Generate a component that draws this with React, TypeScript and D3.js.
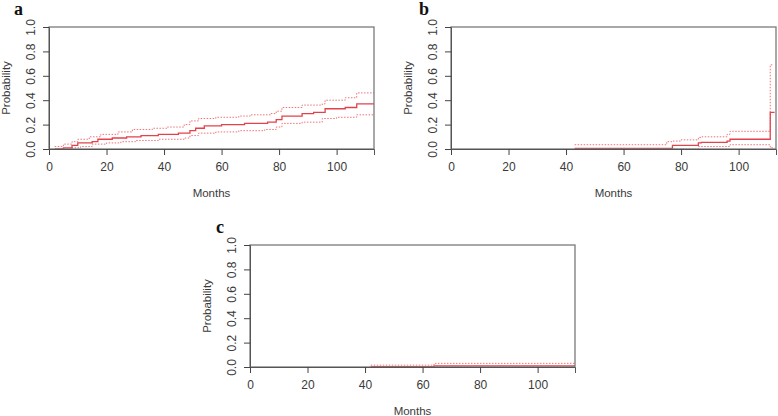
import React, { useEffect, useRef } from "react";
import * as d3 from "d3";

type Pt = [number, number];

// panel a: cumulative incidence with confidence bounds
const aEst: Pt[] = [[2, 0], [5, 0.01], [8, 0.03], [10, 0.05], [15, 0.06], [17, 0.08], [22, 0.09], [27, 0.1], [32, 0.11], [38, 0.12], [45, 0.13], [49, 0.15], [51, 0.17], [54, 0.19], [60, 0.2], [68, 0.21], [76, 0.22], [79, 0.24], [81, 0.27], [88, 0.29], [92, 0.3], [96, 0.33], [103, 0.34], [107, 0.37], [113, 0.37]];
const aUpper: Pt[] = [[2, 0.02], [5, 0.04], [8, 0.06], [10, 0.08], [14, 0.1], [18, 0.12], [24, 0.14], [29, 0.16], [36, 0.17], [41, 0.18], [47, 0.2], [49, 0.23], [52, 0.25], [58, 0.26], [66, 0.27], [70, 0.28], [77, 0.29], [79, 0.31], [81, 0.34], [88, 0.36], [95, 0.37], [96, 0.4], [103, 0.42], [107, 0.46], [113, 0.46]];
const aLower: Pt[] = [[2, 0], [8, 0.01], [11, 0.02], [15, 0.04], [20, 0.05], [25, 0.06], [30, 0.07], [38, 0.08], [47, 0.09], [49, 0.11], [52, 0.13], [58, 0.14], [66, 0.15], [75, 0.16], [79, 0.18], [81, 0.21], [88, 0.22], [95, 0.25], [100, 0.26], [107, 0.28], [113, 0.28]];

// panel b
const bEst: Pt[] = [[43, 0.005], [77, 0.03], [86, 0.05], [87, 0.055], [96, 0.065], [97, 0.08], [111, 0.3], [112.5, 0.3]];
const bUpper: Pt[] = [[43, 0.035], [75, 0.06], [77, 0.065], [80, 0.075], [86, 0.095], [87, 0.1], [96, 0.12], [97, 0.145], [111, 0.69], [112, 0.69]];
const bLower: Pt[] = [[43, 0], [86, 0.02], [97, 0.035], [110, 0.035], [111, 0.01], [112.5, 0.01]];

// panel c
const cEst: Pt[] = [[42, 0.003], [64, 0.01], [113, 0.01]];
const cUpper: Pt[] = [[42, 0.015], [64, 0.03], [113, 0.03]];
const cLower: Pt[] = [[42, 0], [113, 0]];

const xTicks = [0, 20, 40, 60, 80, 100];
const yTicks = [0, 0.2, 0.4, 0.6, 0.8, 1.0];

interface Panel {
    label: string;
    left: number;
    top: number;
    est: Pt[];
    upper: Pt[];
    lower: Pt[];
    labelX: number;
    labelY: number;
}

const panels: Panel[] = [
    { label: "a", left: 49, top: 27, est: aEst, upper: aUpper, lower: aLower, labelX: 14, labelY: 15 },
    { label: "b", left: 451, top: 27, est: bEst, upper: bUpper, lower: bLower, labelX: 419, labelY: 15 },
    { label: "c", left: 250, top: 245, est: cEst, upper: cUpper, lower: cLower, labelX: 216, labelY: 233 },
];

const W = 325;
const H = 122;
const FONT = "'Liberation Sans', Arial, sans-serif";

const App: React.FC = () => {
    const ref = useRef<SVGSVGElement | null>(null);

    useEffect(() => {
        const svg = d3.select(ref.current);
        svg.selectAll("*").remove();

        const x = d3.scaleLinear().domain([0, 113]).range([0, W]);
        const y = d3.scaleLinear().domain([0, 1]).range([H, 0]);
        const line = d3
            .line<Pt>()
            .x((d) => x(d[0]))
            .y((d) => y(d[1]))
            .curve(d3.curveStepAfter);

        panels.forEach((p) => {
            svg.append("text")
                .attr("x", p.labelX)
                .attr("y", p.labelY)
                .attr("font-family", "'Liberation Serif', 'Times New Roman', serif")
                .attr("font-weight", "bold")
                .attr("font-size", 18)
                .attr("fill", "#111")
                .text(p.label);

            const g = svg.append("g").attr("transform", `translate(${p.left},${p.top})`);

            // confidence bounds
            [p.upper, p.lower].forEach((d) => {
                g.append("path")
                    .attr("d", line(d))
                    .attr("fill", "none")
                    .attr("stroke", "#ef7279")
                    .attr("stroke-width", 1)
                    .attr("stroke-dasharray", "1.5,1.5");
            });
            g.append("path")
                .attr("d", line(p.est))
                .attr("fill", "none")
                .attr("stroke", "#e2434b")
                .attr("stroke-width", 1.3);

            g.append("rect")
                .attr("width", W)
                .attr("height", H)
                .attr("fill", "none")
                .attr("stroke", "#7a7a7a")
                .attr("stroke-width", 1.3);

            const xa = g
                .append("g")
                .attr("transform", `translate(0,${H})`)
                .call(d3.axisBottom(x).tickValues(xTicks).tickSize(6).tickFormat(d3.format("d")));
            xa.select(".domain").attr("stroke", "#555");
            xa.selectAll("line").attr("stroke", "#444");
            xa.selectAll("text")
                .attr("y", 13)
                .attr("font-family", FONT)
                .attr("font-size", 12)
                .attr("fill", "#3a3a3a");

            const ya = g
                .append("g")
                .call(d3.axisLeft(y).tickValues(yTicks).tickSize(6).tickFormat(d3.format(".1f")));
            ya.select(".domain").attr("stroke", "#555");
            ya.selectAll("line").attr("stroke", "#444");
            ya.selectAll("text")
                .attr("transform", "rotate(-90)")
                .attr("x", 0)
                .attr("y", -14)
                .attr("dy", 0)
                .attr("text-anchor", "middle")
                .attr("font-family", FONT)
                .attr("font-size", 12)
                .attr("fill", "#3a3a3a");

            g.append("text")
                .attr("x", W / 2)
                .attr("y", H + 48)
                .attr("text-anchor", "middle")
                .attr("font-family", FONT)
                .attr("font-size", 11.5)
                .attr("fill", "#3a3a3a")
                .text("Months");

            g.append("text")
                .attr("transform", `translate(-39,${H / 2}) rotate(-90)`)
                .attr("text-anchor", "middle")
                .attr("font-family", FONT)
                .attr("font-size", 11.5)
                .attr("fill", "#3a3a3a")
                .text("Probability");
        });
    }, []);

    return (
        <svg
            ref={ref}
            width={778}
            height={416}
            style={{ position: "absolute", left: 0, top: 0, background: "#fff" }}
        />
    );
};

export default App;
